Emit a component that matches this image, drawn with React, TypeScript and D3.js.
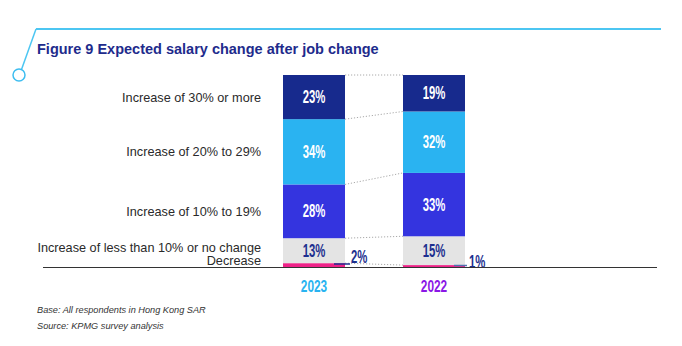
import React from "react";
import * as d3 from "d3";

const years = ["2023", "2022"];
const categories = [
  "Decrease",
  "Increase of less than 10% or no change",
  "Increase of 10% to 19%",
  "Increase of 20% to 29%",
  "Increase of 30% or more",
];
const values2023 = [2, 13, 28, 34, 23];
const values2022 = [1, 15, 33, 32, 19];
const seriesByYear: Record<string, number[]> = { "2023": values2023, "2022": values2022 };
const colors = ["#ee2288", "#e4e4e4", "#3434df", "#2ab3f1", "#172a8d"];
const labelColors = ["#1d2f8f", "#1d2f8f", "#ffffff", "#ffffff", "#ffffff"];
const yearColors = ["#29b3f0", "#8b17e6"];
const title = "Figure 9 Expected salary change after job change";
const notes = ["Base: All respondents in Hong Kong SAR", "Source: KPMG survey analysis"];

const W = 682;
const H = 346;
const yBase = 267;
const yTop = 75;
const SX = 0.63;

export default function App() {
  const y = d3.scaleLinear().domain([0, 100]).range([yBase, yTop]);
  const x = d3.scaleBand<string>().domain(years).range([283, 465]).paddingInner(58 / 120).paddingOuter(0);
  const bw = x.bandwidth();
  const stacked = years.map((yr) => {
    const vals = seriesByYear[yr];
    let acc = 0;
    return vals.map((v) => {
      const s = { y0: acc, y1: acc + v, v };
      acc += v;
      return s;
    });
  });
  const numFont = "'Liberation Sans', Arial, sans-serif";
  const x23 = x("2023")!;
  const x22 = x("2022")!;

  return (
    <svg width={W} height={H} style={{ position: "absolute", left: 0, top: 0 }}>
      {/* decorative frame */}
      <line x1={36} y1={29} x2={661} y2={29} stroke="#4cc6f2" strokeWidth={2} />
      <line x1={36} y1={29} x2={21.5} y2={69.5} stroke="#4cc6f2" strokeWidth={1.5} />
      <circle cx={19} cy={75} r={6} fill="#fff" stroke="#3dbdf0" strokeWidth={1.5} />
      <text x={37} y={54} fontFamily="'Liberation Sans', Arial, sans-serif" fontWeight="bold" fontSize={14.5} fill="#1e2b8c">
        {title}
      </text>

      {/* dotted connectors */}
      {stacked[0].map((s, i) => (
        <line
          key={"c" + i}
          x1={x23 + bw}
          y1={y(s.y1)}
          x2={x22}
          y2={y(stacked[1][i].y1)}
          stroke="#aaaaaa"
          strokeWidth={1}
          strokeDasharray="1.2,1.8"
        />
      ))}

      {/* bars */}
      {years.map((yr, yi) =>
        stacked[yi].map((s, i) => (
          <rect key={yr + i} x={x(yr)} y={y(s.y1)} width={bw} height={y(s.y0) - y(s.y1)} fill={colors[i]} />
        ))
      )}

      {/* value labels */}
      {years.map((yr, yi) =>
        stacked[yi].map((s, i) => {
          if (i === 0) {
            const lx = x(yr)! + bw - 11;
            const ly = yi === 0 ? yBase - 3 : yBase - 1.5;
            const tb = yi === 0 ? ly - 1 : ly + 2.5;
            return (
              <g key={"l" + yr + i}>
                <line x1={lx} y1={ly} x2={lx + (yi === 0 ? 16 : 13)} y2={ly} stroke={yi === 0 ? "#1d2f8f" : "#5070b0"} strokeWidth={1.5} />
                <text
                  transform={`translate(${lx + (yi === 0 ? 17 : 15)},${tb}) scale(${SX},1)`}
                  fontFamily={numFont}
                  fontWeight="bold"
                  fontSize={18}
                  fill="#1d2f8f"
                >
                  {s.v}%
                </text>
              </g>
            );
          }
          const cy = (y(s.y0) + y(s.y1)) / 2;
          return (
            <text
              key={"l" + yr + i}
              transform={`translate(${x(yr)! + bw / 2},${cy}) scale(${SX},1)`}
              dy="0.34em"
              textAnchor="middle"
              fontFamily={numFont}
              fontWeight="bold"
              fontSize={18}
              fill={labelColors[i]}
            >
              {s.v}%
            </text>
          );
        })
      )}

      {/* category labels */}
      {categories.map((c, i) => {
        let ly = (y(stacked[0][i].y0) + y(stacked[0][i].y1)) / 2;
        if (i === 0) ly = 260;
        if (i === 1) ly = 247.5;
        return (
          <text
            key={"cat" + i}
            x={261}
            y={ly}
            dy="0.36em"
            textAnchor="end"
            fontFamily="'Liberation Sans', Arial, sans-serif"
            fontSize={12.7}
            fill="#2a2a2a"
          >
            {c}
          </text>
        );
      })}

      {/* axis */}
      <line x1={43} y1={yBase + 0.5} x2={657} y2={yBase + 0.5} stroke="#333" strokeWidth={1.2} />

      {/* year labels */}
      {years.map((yr, yi) => (
        <text
          key={"yr" + yr}
          transform={`translate(${x(yr)! + bw / 2},292) scale(0.72,1)`}
          textAnchor="middle"
          fontFamily={numFont}
          fontWeight="bold"
          fontSize={16.5}
          fill={yearColors[yi]}
        >
          {yr}
        </text>
      ))}

      {/* notes */}
      {notes.map((n, i) => (
        <text
          key={"n" + i}
          x={37}
          y={310 + i * 16}
          dy="0.36em"
          fontFamily="'Liberation Sans', Arial, sans-serif"
          fontStyle="italic"
          fontSize={9.2}
          fill="#333"
        >
          {n}
        </text>
      ))}
    </svg>
  );
}
